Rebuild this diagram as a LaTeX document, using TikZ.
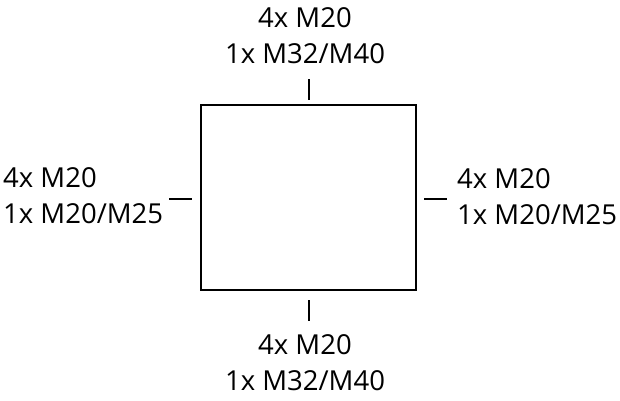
\documentclass[tikz,border=0pt]{standalone}
\usepackage{fontspec}
\setmainfont{Open Sans}
\tikzset{
  lbl/.style={font=\fontsize{27.5}{36}\selectfont, inner sep=0pt, align=left},
  lblc/.style={font=\fontsize{27.5}{36}\selectfont, inner sep=0pt, align=center},
  tick/.style={line width=1.6pt},
}
\begin{document}
\begin{tikzpicture}[x=1pt,y=-1pt]
\useasboundingbox (0,0) rectangle (620,400);
\node[draw, line width=1.6pt, minimum width=215pt, minimum height=185pt, inner sep=0pt] (box) at (308.5,197.5) {};
% ticks
\coordinate (t1) at (309,79); \coordinate (t2) at (309,100);
\coordinate (b1) at (309,300); \coordinate (b2) at (309,321);
\coordinate (l1) at (169,199); \coordinate (l2) at (192,199);
\coordinate (r1) at (424,199); \coordinate (r2) at (447,199);
\draw[tick] (t1) -- (t2);
\draw[tick] (b1) -- (b2);
\draw[tick] (l1) -- (l2);
\draw[tick] (r1) -- (r2);
\node[lblc, anchor=base] (top) at (305,63) {4x M20\\1x M32/M40};
\node[lblc, anchor=base] (bot) at (305,390) {4x M20\\1x M32/M40};
\node[lbl, anchor=base west] (left) at (3,223) {4x M20\\1x M20/M25};
\node[lbl, anchor=base west] (right) at (457,224) {4x M20\\1x M20/M25};
\end{tikzpicture}
\end{document}
